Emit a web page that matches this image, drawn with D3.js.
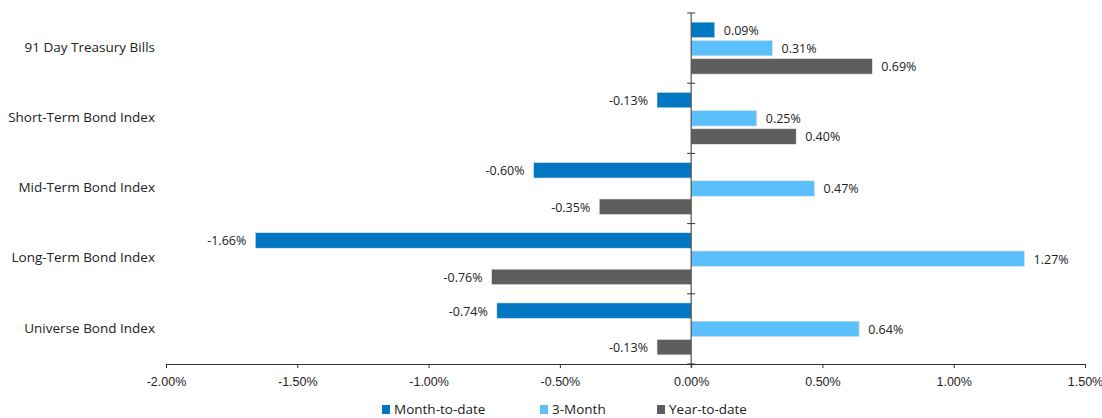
<!DOCTYPE html>
<html>
<head>
<meta charset="utf-8">
<script src="https://cdn.jsdelivr.net/npm/d3@7"></script>
<style>
  body { margin: 0; background: #fff; }
  svg { display: block; font-family: "Open Sans", "DejaVu Sans", sans-serif; }
</style>
</head>
<body>
<svg id="chart" width="1102" height="418"></svg>
<script>
const categories = ["91 Day Treasury Bills", "Short-Term Bond Index", "Mid-Term Bond Index", "Long-Term Bond Index", "Universe Bond Index"];
const seriesNames = ["Month-to-date", "3-Month", "Year-to-date"];
const monthToDate = [0.09, -0.13, -0.60, -1.66, -0.74];
const threeMonth = [0.31, 0.25, 0.47, 1.27, 0.64];
const yearToDate = [0.69, 0.40, -0.35, -0.76, -0.13];
const xTicks = [-2.0, -1.5, -1.0, -0.5, 0.0, 0.5, 1.0, 1.5];
const colors = ["#0077c0", "#5bbffc", "#5e5e5e"];

const series = [monthToDate, threeMonth, yearToDate];
const svg = d3.select("#chart");
const plotLeft = 166, plotRight = 1085, plotTop = 13, plotBottom = 364;

const x = d3.scaleLinear().domain([-2, 1.5]).range([plotLeft, plotRight]);
const y = d3.scaleBand().domain(categories).range([plotTop, plotBottom]).paddingInner(0).paddingOuter(0);
const inner = d3.scaleBand().domain(d3.range(3)).range([0, y.bandwidth()]).paddingInner(0.15).paddingOuter(0.5);
const fmt = v => v.toFixed(2) + "%";

// bars and their value labels
const groups = svg.append("g").selectAll("g").data(categories).join("g")
  .attr("transform", d => `translate(0,${y(d)})`);
groups.each(function(cat, ci) {
  const g = d3.select(this);
  series.forEach((vals, si) => {
    const v = vals[ci];
    g.append("rect")
      .attr("x", x(Math.min(0, v)))
      .attr("y", inner(si))
      .attr("width", Math.abs(x(v) - x(0)))
      .attr("height", inner.bandwidth())
      .attr("fill", colors[si])
      .attr("stroke", "#e6e6e6").attr("stroke-width", 0.6);
    g.append("text")
      .attr("x", v >= 0 ? x(v) + 9 : x(v) - 9)
      .attr("y", inner(si) + inner.bandwidth() / 2 + 0.5)
      .attr("dy", "0.35em")
      .attr("text-anchor", v >= 0 ? "start" : "end")
      .attr("font-size", 12.5)
      .attr("fill", "#222")
      .text(fmt(v));
  });
});

// x axis
const xAxis = svg.append("g").attr("transform", `translate(0,${plotBottom})`)
  .call(d3.axisBottom(x).tickValues(xTicks).tickFormat(fmt).tickSize(4).tickSizeOuter(4).tickPadding(9));
xAxis.select(".domain").attr("stroke", "#333");
xAxis.selectAll(".tick line").attr("stroke", "#333");
xAxis.selectAll("text").attr("font-size", 12.5).attr("fill", "#222");

// category axis at zero
const yAxisLine = svg.append("g");
yAxisLine.append("line").attr("x1", x(0)).attr("x2", x(0)).attr("y1", plotTop).attr("y2", plotBottom + 4).attr("stroke", "#333");
const boundaries = categories.map(c => y(c)).concat([plotBottom]);
yAxisLine.selectAll("line.t").data(boundaries).join("line").attr("class", "t")
  .attr("x1", x(0) - 4).attr("x2", x(0) + 4).attr("y1", d => d).attr("y2", d => d).attr("stroke", "#333");

// category labels
svg.append("g").selectAll("text").data(categories).join("text")
  .attr("x", 155).attr("y", d => y(d) + y.bandwidth() / 2 - 1)
  .attr("dy", "0.35em").attr("text-anchor", "end")
  .attr("font-size", 13.5).attr("fill", "#222").text(d => d);

// legend
const legendX = [382, 540, 657];
const legend = svg.append("g").selectAll("g").data(seriesNames).join("g")
  .attr("transform", (d, i) => `translate(${legendX[i]},409)`);
legend.append("rect").attr("x", 0).attr("y", -4).attr("width", 8).attr("height", 9).attr("fill", (d, i) => colors[i]);
legend.append("text").attr("x", 12).attr("y", 0).attr("dy", "0.35em").attr("font-size", 13.5).attr("fill", "#222").text(d => d);
</script>
</body>
</html>
